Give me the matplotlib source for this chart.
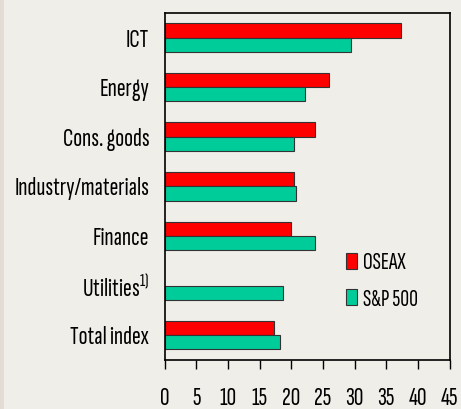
import numpy as np
import matplotlib
matplotlib.use("Agg")
import matplotlib.pyplot as plt
from matplotlib.patches import Rectangle

sectors = ["ICT", "Energy", "Cons. goods", "Industry/materials", "Finance",
           r"Utilities$^{\mathregular{1)}}$", "Total index"]
oseax = [37.3, 25.9, 23.7, 20.5, 20.0, np.nan, 17.3]
sp500 = [29.5, 22.2, 20.5, 20.8, 23.7, 18.7, 18.2]
xticks = [0, 5, 10, 15, 20, 25, 30, 35, 40, 45]

plt.rcParams['font.family'] = ['Sofia Sans Extra Condensed', 'DejaVu Sans']
plt.rcParams['mathtext.fontset'] = 'custom'
plt.rcParams['mathtext.rm'] = 'Sofia Sans Extra Condensed'

bg = '#F0EEE8'
fig = plt.figure(figsize=(4.61, 4.09), dpi=100, facecolor=bg)
fig.patches.append(Rectangle((0, 0), 4 / 461, 1, transform=fig.transFigure,
                             facecolor='#E2DCD5', edgecolor='none', zorder=0))
ax = fig.add_axes([164.5 / 461, 49 / 409, 285 / 461, 347.3 / 409])
ax.set_facecolor(bg)

y = np.arange(len(sectors))
h = 0.288
ax.barh(y - h / 2, oseax, height=h, color='#FF0000', edgecolor='#333333',
        linewidth=0.8, label='OSEAX')
ax.barh(y + h / 2, sp500, height=h, color='#00CC99', edgecolor='#333333',
        linewidth=0.8, label='S&P 500')

ax.set_xlim(0, 45)
ax.set_ylim(6.5, -0.5)
ax.set_xticks(xticks)
ax.set_xticklabels([str(v) for v in xticks])
ax.set_yticks(y)
ax.set_yticklabels(sectors)
ax.tick_params(axis='y', length=0, pad=11, labelsize=19)
ax.tick_params(axis='x', direction='out', length=6.5, width=1, pad=13, labelsize=19)
for s in ax.spines.values():
    s.set_linewidth(1.2)
    s.set_color('black')

ax.legend(loc='upper left', bbox_to_anchor=(0.636, 0.31), frameon=False,
          fontsize=17.5, borderpad=0, borderaxespad=0,
          handlelength=0.47, handleheight=0.62, handletextpad=0.22,
          labelspacing=0.6)

fig.savefig('out.png', dpi=100, facecolor=bg)
